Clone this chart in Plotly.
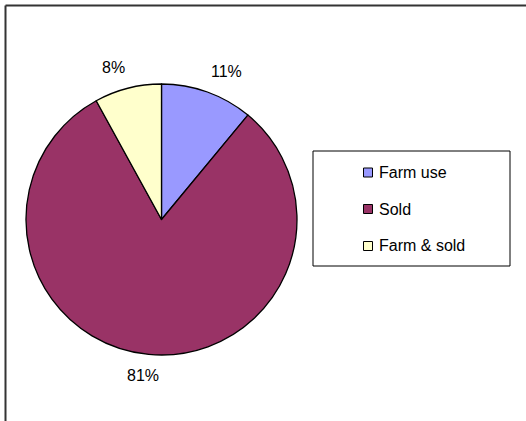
import math
import plotly.graph_objects as go

categories = ["Farm use", "Sold", "Farm & sold"]
values = [11, 81, 8]
colors = ["#9999FF", "#993366", "#FFFFCC"]

W, H = 526, 421
FONT = "Liberation Sans, Arial"

def px(x):
    return x / W

def py(y):
    return 1 - y / H

cx, cy, r = 161.5, 219.5, 135.5

fig = go.Figure()
fig.add_trace(go.Pie(
    labels=categories,
    values=values,
    sort=False,
    direction="clockwise",
    rotation=0,
    marker=dict(colors=colors, line=dict(color="black", width=1.3)),
    textinfo="none",
    domain=dict(x=[px(cx - r), px(cx + r)], y=[py(cy + r), py(cy - r)]),
    showlegend=False,
    hoverinfo="label+percent",
))

shapes = [
    # outer chart border (top and left visible)
    dict(type="line", xref="paper", yref="paper", x0=px(5.5), x1=px(5.5), y0=0, y1=py(5.5),
         line=dict(color="#333333", width=2)),
    dict(type="line", xref="paper", yref="paper", x0=px(5.5), x1=1, y0=py(5.5), y1=py(5.5),
         line=dict(color="#333333", width=2)),
    # legend box
    dict(type="rect", xref="paper", yref="paper", x0=px(313), x1=px(510), y0=py(266), y1=py(151),
         line=dict(color="black", width=1), fillcolor="white"),
]
annotations = []

# percentage labels placed outside each slice at its mid-angle
total = sum(values)
cum = 0
for v in values:
    mid = (cum + v / 2) / total * 2 * math.pi
    cum += v
    d = 157
    lx = cx + d * math.sin(mid) * 1.22
    ly = cy - d * math.cos(mid)
    annotations.append(dict(text=f"{round(v / total * 100)}%", xref="paper", yref="paper",
                            x=px(lx), y=py(ly), xanchor="center", yanchor="middle",
                            showarrow=False, font=dict(family=FONT, size=16, color="black")))

legend_y = [172.5, 209, 246]
for cat, col, ly in zip(categories, colors, legend_y):
    shapes.append(dict(type="rect", xref="paper", yref="paper",
                       x0=px(363.5), x1=px(372.5), y0=py(ly + 4.5), y1=py(ly - 4.5),
                       line=dict(color="black", width=1), fillcolor=col))
    annotations.append(dict(text=cat, xref="paper", yref="paper", x=px(377), y=py(ly),
                            xanchor="left", yanchor="middle", showarrow=False,
                            font=dict(family=FONT, size=16, color="black")))

fig.update_layout(
    width=W, height=H,
    margin=dict(l=0, r=0, t=0, b=0),
    paper_bgcolor="white",
    plot_bgcolor="white",
    shapes=shapes,
    annotations=annotations,
)

fig.write_html("out.html", config={"displayModeBar": False},
               post_script="document.body.style.margin='0px';")
